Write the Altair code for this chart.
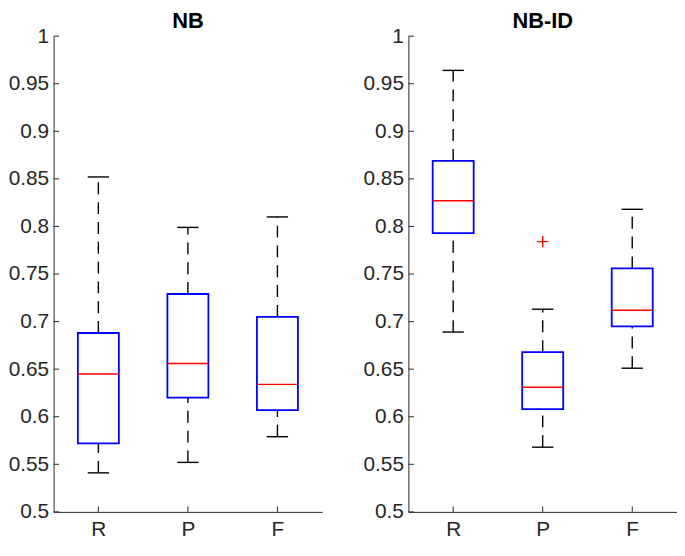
import altair as alt
import pandas as pd

# ---- data ----
categories = ["R", "P", "F"]
positions = [1, 2, 3]

nb_lower = [0.541, 0.552, 0.579]
nb_q1 = [0.572, 0.620, 0.607]
nb_median = [0.645, 0.656, 0.634]
nb_q3 = [0.688, 0.729, 0.705]
nb_upper = [0.852, 0.799, 0.810]
nb_outlier_cat = []
nb_outlier_val = []

nbid_lower = [0.689, 0.568, 0.651]
nbid_q1 = [0.793, 0.608, 0.695]
nbid_median = [0.827, 0.631, 0.712]
nbid_q3 = [0.869, 0.668, 0.756]
nbid_upper = [0.964, 0.713, 0.818]
nbid_outlier_cat = ["P"]
nbid_outlier_val = [0.784]

y_ticks = [0.5, 0.55, 0.6, 0.65, 0.7, 0.75, 0.8, 0.85, 0.9, 0.95, 1.0]

# ---- style ----
W, H = 271, 480
FONT = "Liberation Sans"
AX = "#262626"
BOX_HALF = 0.229
CAP_HALF = 0.119
TICK_LEN = 5.5
LFS = 21

label_expr = "[" + ",".join(f"'{c}'" for c in categories) + "][datum.value - 1]"

x_scale = alt.Scale(domain=[0.5, 3.5], nice=False, zero=False)
x_axis = alt.Axis(values=positions, labelExpr=label_expr, title=None, grid=False,
                  tickSize=0, labelPadding=7, domainColor=AX, labelColor=AX,
                  labelFontSize=LFS, labelFont=FONT, domainWidth=1)
y_scale = alt.Scale(domain=[0.5, 1.0], nice=False, zero=False)
y_axis = alt.Axis(values=y_ticks, format="~g", title=None, grid=False, tickSize=0,
                  labelPadding=5, domainColor=AX, labelColor=AX,
                  labelFontSize=LFS, labelFont=FONT, domainWidth=1)


def X(f):
    return alt.X(f, scale=x_scale, axis=x_axis)


def Y(f):
    return alt.Y(f, scale=y_scale, axis=y_axis)


def panel(title, lower, q1, med, q3, upper, out_cat, out_val):
    df = pd.DataFrame({"cat": categories, "pos": positions, "lower": lower, "q1": q1,
                       "median": med, "q3": q3, "upper": upper})
    base = alt.Chart(df).transform_calculate(
        bx1=f"datum.pos - {BOX_HALF}", bx2=f"datum.pos + {BOX_HALF}",
        cx1=f"datum.pos - {CAP_HALF}", cx2=f"datum.pos + {CAP_HALF}",
    )
    dash = [12, 8]
    w_up = base.mark_rule(color="black", strokeWidth=1.4, strokeDash=dash).encode(
        x=X("pos:Q"), y=Y("q3:Q"), y2="upper:Q")
    w_lo = base.mark_rule(color="black", strokeWidth=1.4, strokeDash=dash).encode(
        x=X("pos:Q"), y=Y("lower:Q"), y2="q1:Q")
    cap_up = base.mark_rule(color="black", strokeWidth=1.4).encode(
        x=X("cx1:Q"), x2="cx2:Q", y=Y("upper:Q"))
    cap_lo = base.mark_rule(color="black", strokeWidth=1.4).encode(
        x=X("cx1:Q"), x2="cx2:Q", y=Y("lower:Q"))
    box = base.mark_rect(fill="white", stroke="#0000FF", strokeWidth=1.8).encode(
        x=X("bx1:Q"), x2="bx2:Q", y=Y("q1:Q"), y2="q3:Q")
    med_l = base.mark_rule(color="#FF0000", strokeWidth=1.5).encode(
        x=X("bx1:Q"), x2="bx2:Q", y=Y("median:Q"))

    tick_df = pd.DataFrame({"v": y_ticks})
    yt = alt.Chart(tick_df).mark_rule(color=AX, strokeWidth=1).encode(
        y=Y("v:Q"), x=alt.value(0), x2=alt.value(TICK_LEN))
    xt = alt.Chart(pd.DataFrame({"pos": positions})).mark_rule(color=AX, strokeWidth=1).encode(
        x=X("pos:Q"), y=alt.value(H), y2=alt.value(H - TICK_LEN))

    layers = [w_up, w_lo, cap_up, cap_lo, box, med_l, yt, xt]
    if out_cat:
        odf = pd.DataFrame({"cat": out_cat, "val": out_val})
        odf["pos"] = [positions[categories.index(c)] for c in out_cat]
        pts = alt.Chart(odf).mark_point(
            shape="M-1,0L1,0M0,-1L0,1", filled=False, color="#FF0000", strokeWidth=1.4,
            size=130, opacity=1
        ).encode(x=X("pos:Q"), y=Y("val:Q"))
        layers.append(pts)
    return alt.layer(*layers).properties(
        width=W, height=H,
        title=alt.TitleParams(title, fontSize=22, font=FONT, fontWeight="bold",
                              color="black", anchor="middle", offset=-8),
    )


left = panel("NB", nb_lower, nb_q1, nb_median, nb_q3, nb_upper, nb_outlier_cat, nb_outlier_val)
right = panel("NB-ID", nbid_lower, nbid_q1, nbid_median, nbid_q3, nbid_upper,
              nbid_outlier_cat, nbid_outlier_val)

chart = alt.hconcat(left, right, spacing=41).properties(
    padding={"left": 0, "top": 0, "right": 0, "bottom": 0},
    background="white",
).configure_view(stroke=None)

chart.save("out.html", embed_options={"renderer": "svg", "actions": False})
